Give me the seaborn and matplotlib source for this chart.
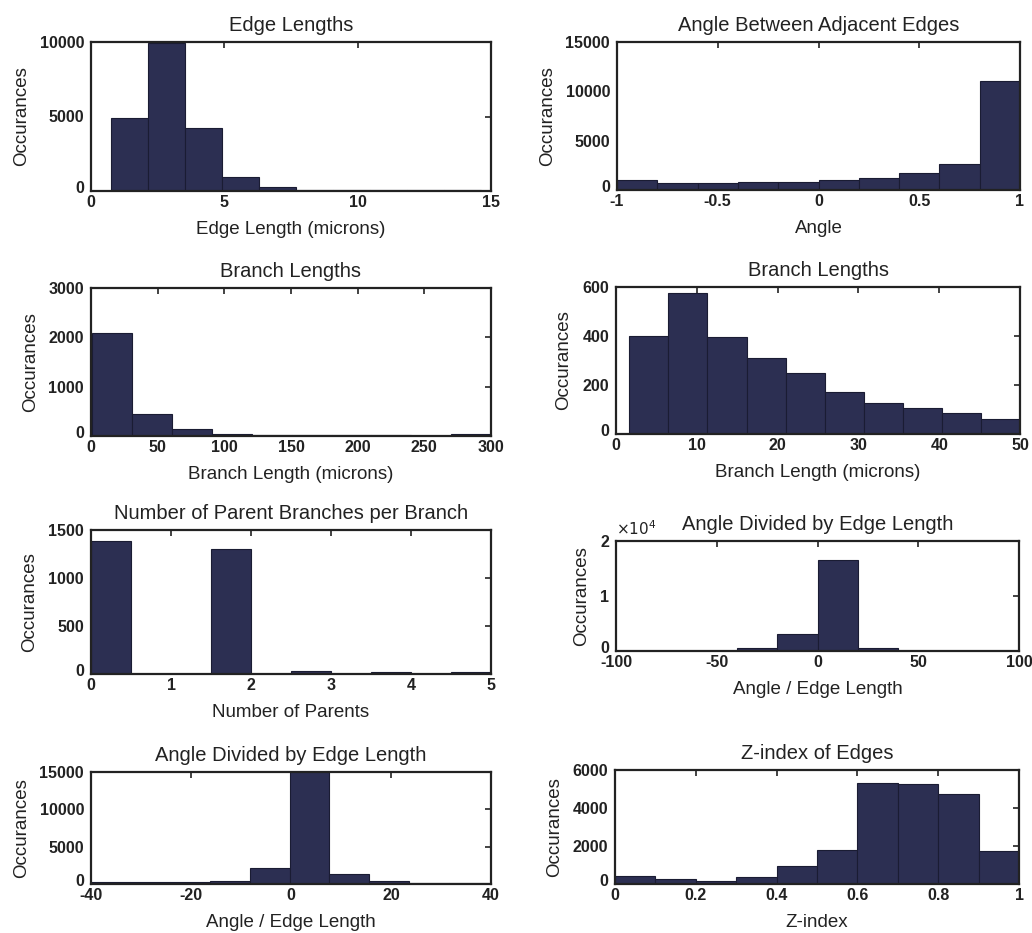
import numpy as np
import pandas as pd
import matplotlib
matplotlib.use("Agg")
import matplotlib.pyplot as plt
import matplotlib.transforms as mtransforms
import seaborn as sns

sns.set_style("white")
plt.rcParams['font.family'] = ['Liberation Sans', 'DejaVu Sans']

# ---------------- data (bin edges + counts) ----------------
edge_len_edges = [0.74 + 1.39 * i for i in range(11)]
edge_len_counts = [4890, 9900, 4250, 930, 240, 100, 70, 60, 60, 50]

angle_edges = [-1.0 + 0.2 * i for i in range(11)]
angle_counts = [980, 750, 750, 850, 850, 1010, 1180, 1690, 2640, 11050]

branch_all_edges = [1.0 + 29.9 * i for i in range(11)]
branch_all_counts = [2090, 440, 135, 40, 30, 25, 20, 25, 0, 50]

branch_short_edges = [1.65 + 4.835 * i for i in range(11)]
branch_short_counts = [400, 577, 396, 312, 251, 172, 128, 107, 84, 61]

parents_edges = [0.5 * i for i in range(11)]
parents_counts = [1385, 0, 0, 1298, 0, 35, 0, 17, 0, 24]

ratio_wide_edges = [-100.0 + 20 * i for i in range(11)]
ratio_wide_counts = [20, 20, 30, 480, 3020, 16500, 480, 30, 20, 20]

ratio_narrow_edges = [-40.2 + 7.98 * i for i in range(11)]
ratio_narrow_counts = [220, 220, 310, 460, 2130, 16500, 1290, 350, 180, 180]

zindex_edges = [0.1 * i for i in range(11)]
zindex_counts = [400, 280, 175, 350, 930, 1780, 5300, 5250, 4740, 1750]

panels = [
    dict(title="Edge Lengths", xlabel="Edge Length (microns)",
         edges=edge_len_edges, counts=edge_len_counts,
         xlim=(0, 15), xticks=[0, 5, 10, 15], ylim=(0, 10000),
         yticks=[0, 5000, 10000], pos=(91, 42, 491, 191)),
    dict(title="Angle Between Adjacent Edges", xlabel="Angle",
         edges=angle_edges, counts=angle_counts,
         xlim=(-1, 1), xticks=[-1, -0.5, 0, 0.5, 1], ylim=(0, 15000),
         yticks=[0, 5000, 10000, 15000], pos=(617, 42, 1020, 190)),
    dict(title="Branch Lengths", xlabel="Branch Length (microns)",
         edges=branch_all_edges, counts=branch_all_counts,
         xlim=(0, 300), xticks=[0, 50, 100, 150, 200, 250, 300], ylim=(0, 3000),
         yticks=[0, 1000, 2000, 3000], pos=(91, 288, 491, 436)),
    dict(title="Branch Lengths", xlabel="Branch Length (microns)",
         edges=branch_short_edges, counts=branch_short_counts,
         xlim=(0, 50), xticks=[0, 10, 20, 30, 40, 50], ylim=(0, 600),
         yticks=[0, 200, 400, 600], pos=(616, 287, 1020, 434)),
    dict(title="Number of Parent Branches per Branch", xlabel="Number of Parents",
         edges=parents_edges, counts=parents_counts,
         xlim=(0, 5), xticks=[0, 1, 2, 3, 4, 5], ylim=(0, 1500),
         yticks=[0, 500, 1000, 1500], pos=(91, 530, 491, 674)),
    dict(title="Angle Divided by Edge Length", xlabel="Angle / Edge Length",
         edges=ratio_wide_edges, counts=ratio_wide_counts,
         xlim=(-100, 100), xticks=[-100, -50, 0, 50, 100], ylim=(0, 20000),
         yticks=[0, 10000, 20000], yticklabels=["0", "1", "2"], exp=True,
         pos=(616, 541, 1019, 651)),
    dict(title="Angle Divided by Edge Length", xlabel="Angle / Edge Length",
         edges=ratio_narrow_edges, counts=ratio_narrow_counts,
         xlim=(-40, 40), xticks=[-40, -20, 0, 20, 40], ylim=(0, 15000),
         yticks=[0, 5000, 10000, 15000], pos=(91, 772, 491, 884)),
    dict(title="Z-index of Edges", xlabel="Z-index",
         edges=zindex_edges, counts=zindex_counts,
         xlim=(0, 1), xticks=[0, 0.2, 0.4, 0.6, 0.8, 1], ylim=(0, 6000),
         yticks=[0, 2000, 4000, 6000], pos=(615, 770, 1019, 884)),
]

W, H = 1032, 933
fig = plt.figure(figsize=(W / 100, H / 100), dpi=100)
fig.patch.set_facecolor("white")

bar_color = "#2c2f52"
edge_color = "#1a1c33"
ink = "#222222"

def fmt(v):
    if float(v).is_integer():
        return str(int(v))
    return ("%g" % v)

for p in panels:
    l, t, r, b = p["pos"]
    ax = fig.add_axes([l / W, 1 - b / H, (r - l) / W, (b - t) / H])
    edges = [float(e) for e in p["edges"]]
    centers = [(edges[i] + edges[i + 1]) / 2 for i in range(len(edges) - 1)]
    df = pd.DataFrame({"value": centers, "count": [float(c) for c in p["counts"]]})
    sns.histplot(data=df, x="value", weights="count", bins=edges, ax=ax,
                 color=bar_color, edgecolor=edge_color, linewidth=0.8,
                 alpha=1.0, stat="count")
    ax.set_xlim(*p["xlim"])
    ax.set_ylim(*p["ylim"])
    ax.set_xticks(p["xticks"])
    ax.set_xticklabels([fmt(v) for v in p["xticks"]])
    ax.set_yticks(p["yticks"])
    ax.set_yticklabels(p.get("yticklabels", [fmt(v) for v in p["yticks"]]))
    ax.tick_params(direction="in", length=4, width=1.2, top=True, right=True,
                   labelsize=11.5, colors=ink)
    ax.tick_params(axis="x", pad=3)
    ax.tick_params(axis="y", pad=5)
    for lab in ax.get_xticklabels() + ax.get_yticklabels():
        lab.set_fontweight("bold")
    # MATLAB-style: the bottom "0" y label sits slightly above the axis line
    ylabs = ax.get_yticklabels()
    if ylabs:
        ylabs[0].set_transform(ylabs[0].get_transform() +
                               mtransforms.ScaledTranslation(0, 4 / 100, fig.dpi_scale_trans))
    for s in ax.spines.values():
        s.set_linewidth(1.6)
        s.set_color(ink)
    ax.set_title(p["title"], fontsize=14.5, color=ink, pad=8)
    ax.set_xlabel(p["xlabel"], fontsize=13.5, color=ink, labelpad=8)
    ax.set_ylabel("Occurances", fontsize=13.5, color=ink, labelpad=7)
    if p.get("exp"):
        ax.text(0.0, 1.03, r"$\times10^{4}$", transform=ax.transAxes,
                fontsize=11, ha="left", va="bottom", color=ink)

fig.savefig("out.png", dpi=100, facecolor="white")
